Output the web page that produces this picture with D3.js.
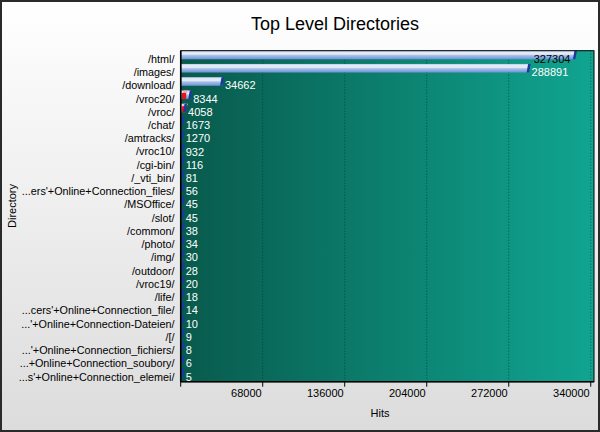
<!DOCTYPE html>
<html><head><meta charset="utf-8">
<script src="https://cdn.jsdelivr.net/npm/d3@7/dist/d3.min.js"></script>
<style>html,body{margin:0;padding:0;background:#fff}svg{display:block;font-family:"Liberation Sans",Arial,sans-serif}</style>
</head><body>
<script>
const categories = ["/html/","/images/","/download/","/vroc20/","/vroc/","/chat/","/amtracks/","/vroc10/","/cgi-bin/","/_vti_bin/","...ers'+Online+Connection_files/","/MSOffice/","/slot/","/common/","/photo/","/img/","/outdoor/","/vroc19/","/life/","...cers'+Online+Connection_file/","...'+Online+Connection-Dateien/","/[/","...'+Online+Connection_fichiers/","...+Online+Connection_soubory/","...s'+Online+Connection_elemei/"];
const hits = [327304,288891,34662,8344,4058,1673,1270,932,116,81,56,45,45,38,34,30,28,20,18,14,10,9,8,6,5];
const xTicks = [0,68000,136000,204000,272000,340000];
const xMax = 342700;
const title = "Top Level Directories";
const xTitle = "Hits";
const yTitle = "Directory";

const W = 600, H = 432;
const L = 180.7, R = 594, T = 50.7, B = 381.7;
const svg = d3.select("body").append("svg").attr("width", W).attr("height", H);
const defs = svg.append("defs");
const bg = defs.append("linearGradient").attr("id","bg").attr("x1",0).attr("y1",0).attr("x2",0).attr("y2",1);
bg.append("stop").attr("offset",0).attr("stop-color","#ffffff");
bg.append("stop").attr("offset",1).attr("stop-color","#dcdcdc");
const pg = defs.append("linearGradient").attr("id","pg").attr("x1",0).attr("y1",0).attr("x2",1).attr("y2",0);
pg.append("stop").attr("offset",0).attr("stop-color","#085a4c");
pg.append("stop").attr("offset",1).attr("stop-color","#10a591");
const bgr = defs.append("linearGradient").attr("id","bar").attr("x1",0).attr("y1",0).attr("x2",0).attr("y2",1);
[[0,"#b8c9e4"],[0.15,"#dfe8f6"],[0.4,"#e4ecf8"],[0.55,"#a9c1ea"],[1,"#6c92d6"]].forEach(s=>bgr.append("stop").attr("offset",s[0]).attr("stop-color",s[1]));

svg.append("rect").attr("x",1).attr("y",1).attr("width",W-2).attr("height",H-2).attr("fill","url(#bg)").attr("stroke","#2a2a2a").attr("stroke-width",2);

const x = d3.scaleLinear().domain([0,xMax]).range([L,R]);
const y = d3.scaleBand().domain(categories).range([T,B]);
const bh = 8.6;

svg.append("rect").attr("x",L).attr("y",T).attr("width",R-L).attr("height",B-T).attr("fill","url(#pg)");

// grid
svg.append("g").selectAll("line").data(xTicks.filter(d=>d>0)).join("line")
  .attr("x1",d=>x(d)).attr("x2",d=>x(d)).attr("y1",T).attr("y2",B)
  .attr("stroke","#073f35").attr("stroke-width",1).attr("stroke-dasharray","1,2").attr("opacity",0.8);

// bars
const g = svg.append("g");
hits.forEach((v,i)=>{
  const cat = categories[i];
  const yt = y(cat), yb = yt + bh;
  let xe = Math.max(x(v), L + 2.5);
  const w = x(v) - L;
  if (w > 3) {
    g.append("rect").attr("x",L+0.5).attr("y",yt).attr("width",xe-L-0.5).attr("height",bh).attr("fill","url(#bar)");
  }
  if (w > 4 && w < 15) {
    g.append("polygon").attr("points",[[L+2,yt+2.5],[L+6,yt+2.5],[L+7.5,yt],[L+3.5,yt]].join(" ")).attr("fill","#f2aab2");
    g.append("rect").attr("x",L+1).attr("y",yt+2.5).attr("width",4.5).attr("height",bh-2.5).attr("fill","#e8141e");
  }
  g.append("polygon").attr("points",[[xe-2.5,yb],[xe,yb],[xe+1.5,yt],[xe-1,yt]].join(" ")).attr("fill","#1a3a9e");
  const lbl = d3.format("d")(v);
  const tw = lbl.length*6.1;
  const inside = xe + 3 + tw > R;
  svg.append("text").attr("x", inside ? xe-5 : xe+2.5).attr("y", yt+8.3)
    .attr("dy","0.35em").attr("text-anchor", inside?"end":"start")
    .attr("font-size",11).attr("fill", inside?"#000":"#fff").text(lbl);
});

// frame
svg.append("rect").attr("x",L).attr("y",T).attr("width",R-L).attr("height",B-T).attr("fill","none").attr("stroke","#000").attr("stroke-width",1);
svg.append("line").attr("x1",L).attr("x2",L).attr("y1",T).attr("y2",B).attr("stroke","#000").attr("stroke-width",1.5);
svg.append("line").attr("x1",L).attr("x2",R).attr("y1",B).attr("y2",B).attr("stroke","#000").attr("stroke-width",1.5);

// x axis ticks
const xa = svg.append("g");
xa.selectAll("line").data(xTicks).join("line").attr("x1",d=>x(d)).attr("x2",d=>x(d)).attr("y1",B).attr("y2",B+5).attr("stroke","#000");
xa.selectAll("text").data(xTicks.filter(d=>d>0)).join("text").attr("x",d=>x(d)-1).attr("y",393.5).attr("dy","0.35em")
  .attr("text-anchor","end").attr("font-size",11).attr("fill","#000").text(d=>d);

// y labels
svg.append("g").selectAll("text").data(categories).join("text")
  .attr("x",174.5).attr("y",d=>y(d)+8.3).attr("dy","0.35em").attr("text-anchor","end")
  .attr("font-size",10.8).attr("fill","#000").text(d=>d);

svg.append("text").attr("x",335).attr("y",24).attr("dy","0.35em").attr("text-anchor","middle").attr("font-size",18).attr("fill","#000").text(title);
svg.append("text").attr("x",380).attr("y",413.5).attr("dy","0.35em").attr("text-anchor","middle").attr("font-size",11).attr("fill","#000").text(xTitle);
svg.append("text").attr("transform","translate(12.5,206) rotate(-90)").attr("dy","0.35em").attr("text-anchor","middle").attr("font-size",11).attr("fill","#000").text(yTitle);
</script>
</body></html>
